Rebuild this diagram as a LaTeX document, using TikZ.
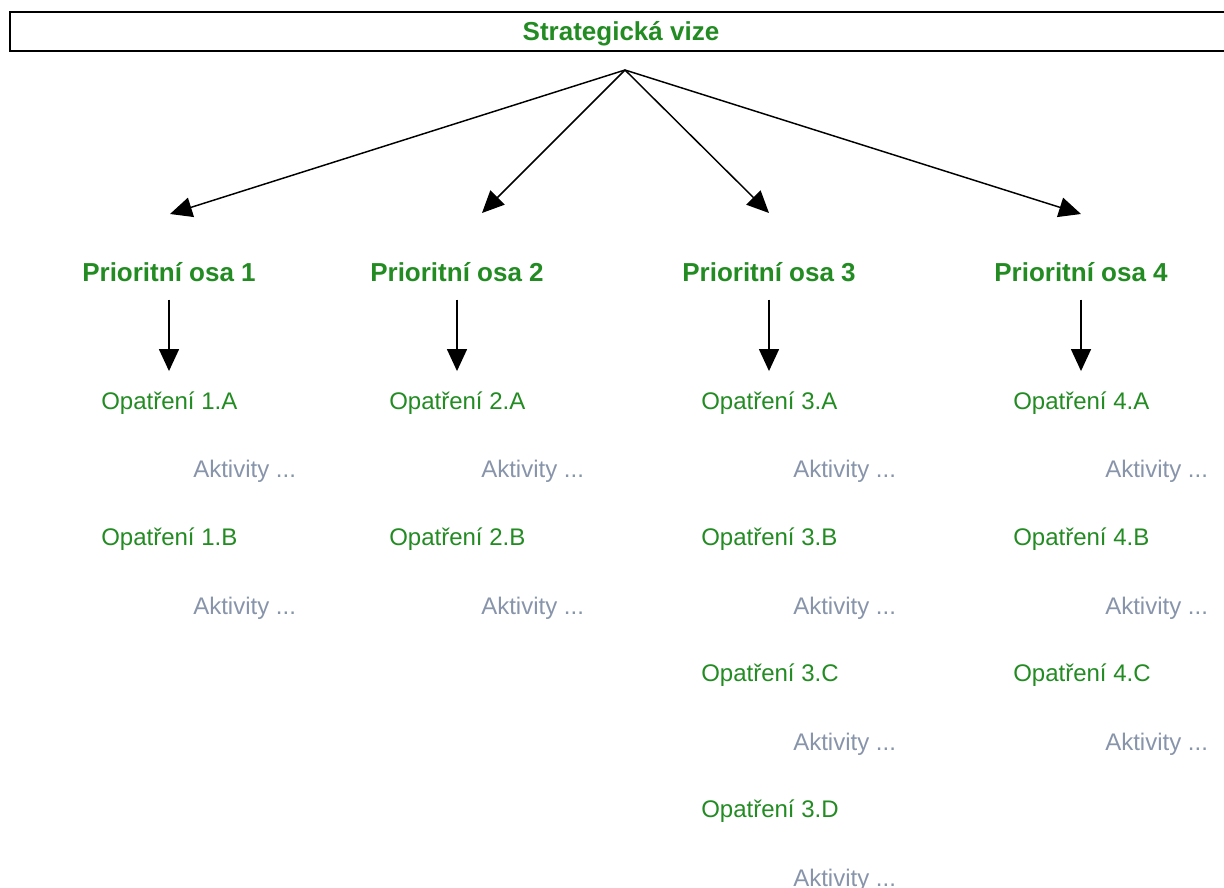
\documentclass[tikz,border=0pt]{standalone}
\usepackage{fontspec}
\setmainfont{Liberation Sans}
\usetikzlibrary{arrows.meta}
\definecolor{osagreen}{RGB}{34,139,34}
\definecolor{aktgray}{RGB}{135,148,170}

\begin{document}
\begin{tikzpicture}
[x=0.75pt, y=-0.75pt, inner sep=0pt, >={Triangle[length=16.5pt,width=15pt]}]
\tikzstyle{osa}=[font=\fontsize{19.5}{22}\selectfont\bfseries, text=osagreen, anchor=base]
\tikzstyle{opatreni}=[font=\fontsize{18}{21}\selectfont, text=osagreen, anchor=base west]
\tikzstyle{aktivity}=[font=\fontsize{18}{21}\selectfont, text=aktgray, anchor=base west]
\tikzstyle{conn}=[->, line width=1.1pt]
\tikzstyle{down}=[conn, shorten <=13.5pt, shorten >=15pt]

\useasboundingbox (0,0) rectangle (1224,888);

% vize
\draw[line width=1.5pt] (10,12) rectangle (1240,51);
\node[osa]	(vize)	at (621,41)	{Strategická vize};
\coordinate	(top)	at (625,70);

% prioritni osy
\node[osa]	(osa1)	at (169,281)	{Prioritní osa 1};
\node[osa]	(osa2)	at (457,281)	{Prioritní osa 2};
\node[osa]	(osa3)	at (769,281)	{Prioritní osa 3};
\node[osa]	(osa4)	at (1081,281)	{Prioritní osa 4};
\coordinate	(a1)	at (170,214);
\coordinate	(a2)	at (482,213);
\coordinate	(a3)	at (769,213);
\coordinate	(a4)	at (1081,214);

% opatreni a aktivity
\node[opatreni]	(op1a)	at (101,409)	{Opatření 1.A};
\node[aktivity]	(ak1a)	at (193,477)	{Aktivity ...};
\node[opatreni]	(op1b)	at (101,545)	{Opatření 1.B};
\node[aktivity]	(ak1b)	at (193,614)	{Aktivity ...};

\node[opatreni]	(op2a)	at (389,409)	{Opatření 2.A};
\node[aktivity]	(ak2a)	at (481,477)	{Aktivity ...};
\node[opatreni]	(op2b)	at (389,545)	{Opatření 2.B};
\node[aktivity]	(ak2b)	at (481,614)	{Aktivity ...};

\node[opatreni]	(op3a)	at (701,409)	{Opatření 3.A};
\node[aktivity]	(ak3a)	at (793,477)	{Aktivity ...};
\node[opatreni]	(op3b)	at (701,545)	{Opatření 3.B};
\node[aktivity]	(ak3b)	at (793,614)	{Aktivity ...};
\node[opatreni]	(op3c)	at (701,681)	{Opatření 3.C};
\node[aktivity]	(ak3c)	at (793,750)	{Aktivity ...};
\node[opatreni]	(op3d)	at (701,817)	{Opatření 3.D};
\node[aktivity]	(ak3d)	at (793,886)	{Aktivity ...};

\node[opatreni]	(op4a)	at (1013,409)	{Opatření 4.A};
\node[aktivity]	(ak4a)	at (1105,477)	{Aktivity ...};
\node[opatreni]	(op4b)	at (1013,545)	{Opatření 4.B};
\node[aktivity]	(ak4b)	at (1105,614)	{Aktivity ...};
\node[opatreni]	(op4c)	at (1013,681)	{Opatření 4.C};
\node[aktivity]	(ak4c)	at (1105,750)	{Aktivity ...};

\draw[conn] (top)--(a1);
\draw[conn] (top)--(a2);
\draw[conn] (top)--(a3);
\draw[conn] (top)--(a4);
\draw[down] (osa1.south)--(osa1.south |- op1a.north);
\draw[down] (osa2.south)--(osa2.south |- op2a.north);
\draw[down] (osa3.south)--(osa3.south |- op3a.north);
\draw[down] (osa4.south)--(osa4.south |- op4a.north);
\end{tikzpicture}
\end{document}
